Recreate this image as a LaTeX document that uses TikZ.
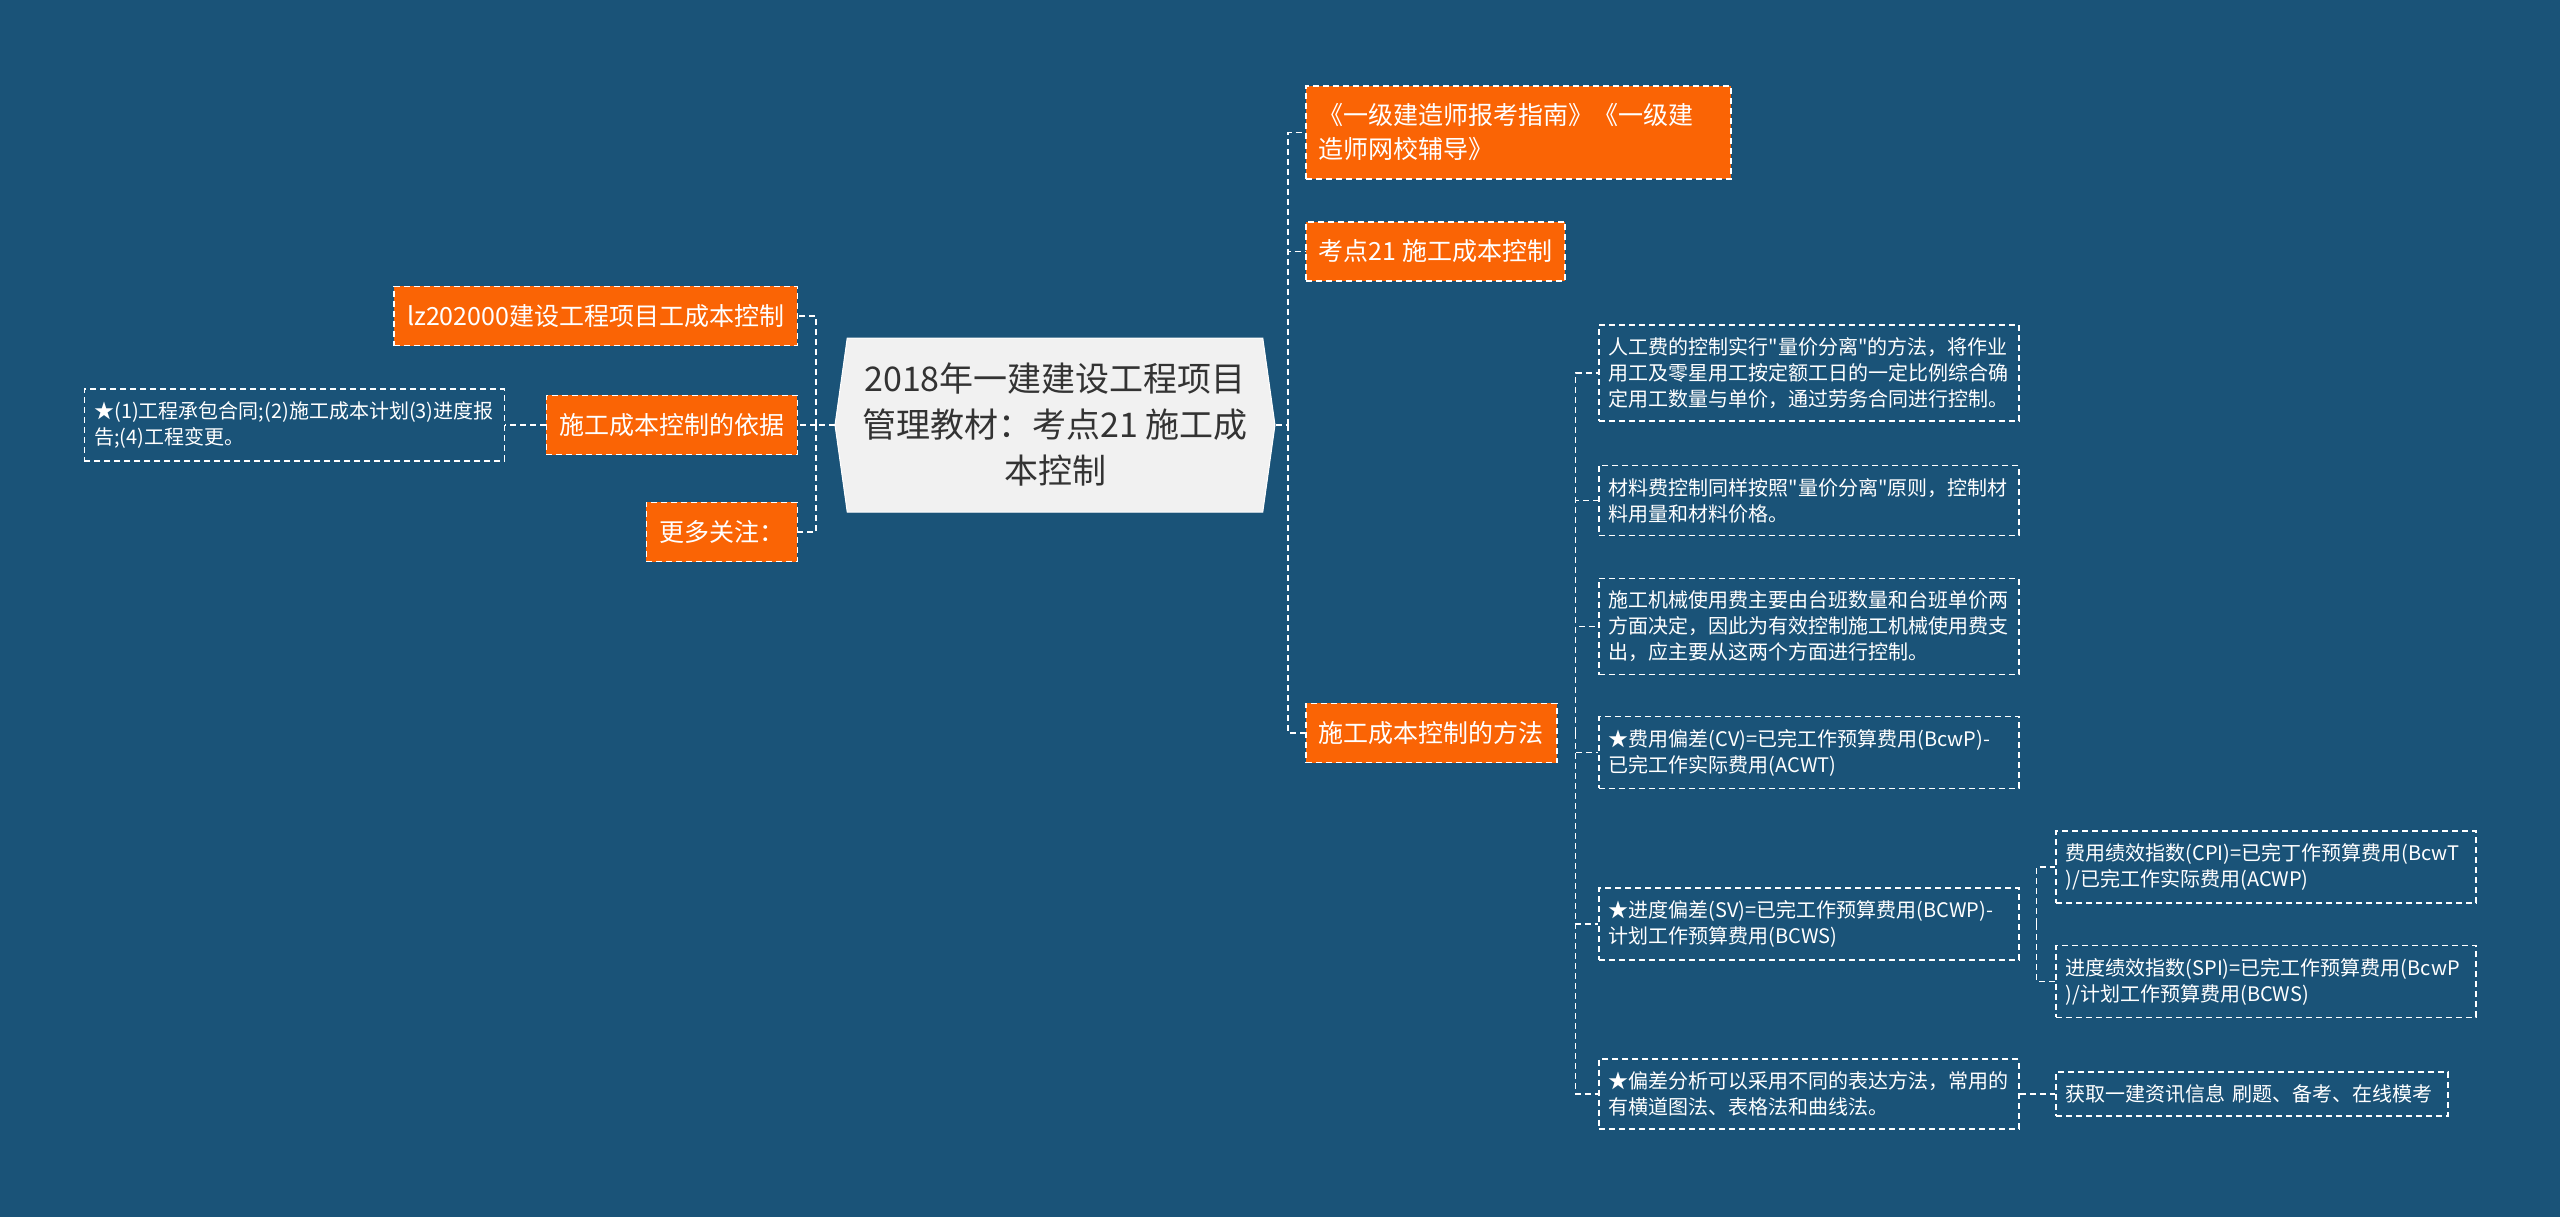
\documentclass[tikz,border=0pt]{standalone}
\usepackage{fontspec}
\setmainfont{Noto Sans CJK SC}[Ligatures=TeXOff]
\usetikzlibrary{positioning, shapes.symbols}

\definecolor{bgblue}{RGB}{26,83,120}
\definecolor{topicorange}{RGB}{250,100,5}
\definecolor{rootgray}{RGB}{241,241,241}
\definecolor{roottext}{RGB}{51,51,51}

\begin{document}
\begin{tikzpicture}[
    x=1pt, y=-1pt,
    dashwhite/.style={draw=white, line width=1.5pt, dash pattern=on 6pt off 4pt},
    conn/.style={dashwhite},
    root/.style={signal, signal to=east and west, signal pointer angle=164,
        fill=rootgray, draw=white, line width=1pt, text=roottext,
        minimum width=440pt, minimum height=174pt, inner sep=0pt,
        align=center, font=\fontsize{34}{46}\selectfont},
    topic/.style={dashwhite, fill=topicorange, text=white, align=left,
        inner xsep=13pt, inner ysep=18pt, font=\fontsize{25}{34}\selectfont},
    leaf/.style={dashwhite, text=white, text width=400pt, align=left,
        inner xsep=10pt, inner ysep=12.5pt, font=\fontsize{20}{26}\selectfont}
]

% Background
\fill[bgblue] (0,0) rectangle (2560,1217);
\useasboundingbox (0,0) rectangle (2560,1217);

% Nodes
\node[root] (root) at (1055,425) {2018年一建建设工程项目\\管理教材：考点21 施工成\\本控制};

\node[topic, anchor=west, text width=399pt] (guide) at (1305,132.5)
    {《一级建造师报考指南》《一级建\\造师网校辅导》};
\node[topic, anchor=west] (point) at (1305,251.5) {考点21 施工成本控制};
\node[topic, anchor=west] (method) at (1305,733) {施工成本控制的方法};

\node[topic, anchor=east] (lz) at (798,316) {lz202000建设工程项目工成本控制};
\node[topic, anchor=east] (basis) at (798,425) {施工成本控制的依据};
\node[topic, anchor=east] (more) at (798,532) {更多关注：};
\node[leaf, anchor=east] (basisleaf) at (505,425)
    {★(1)工程承包合同;(2)施工成本计划(3)进度报\\告;(4)工程变更。};

\node[leaf, anchor=west] (labor) at (1598,373)
    {人工费的控制实行"量价分离"的方法，将作业\\用工及零星用工按定额工日的一定比例综合确\\定用工数量与单价，通过劳务合同进行控制。};
\node[leaf, anchor=west] (material) at (1598,500.5)
    {材料费控制同样按照"量价分离"原则，控制材\\料用量和材料价格。};
\node[leaf, anchor=west] (machine) at (1598,626.5)
    {施工机械使用费主要由台班数量和台班单价两\\方面决定，因此为有效控制施工机械使用费支\\出，应主要从这两个方面进行控制。};
\node[leaf, anchor=west] (cv) at (1598,752.5)
    {★费用偏差(CV)=已完工作预算费用(BcwP)-\\已完工作实际费用(ACWT)};
\node[leaf, anchor=west] (sv) at (1598,924)
    {★进度偏差(SV)=已完工作预算费用(BCWP)-\\计划工作预算费用(BCWS)};
\node[leaf, anchor=west] (bias) at (1598,1094)
    {★偏差分析可以采用不同的表达方法，常用的\\有横道图法、表格法和曲线法。};

\node[leaf, anchor=west] (cpi) at (2055,867)
    {费用绩效指数(CPI)=已完丁作预算费用(BcwT\\)/已完工作实际费用(ACWP)};
\node[leaf, anchor=west] (spi) at (2055,981.5)
    {进度绩效指数(SPI)=已完工作预算费用(BcwP\\)/计划工作预算费用(BCWS)};
\node[leaf, anchor=west, text width=372pt] (getinfo) at (2055,1094)
    {获取一建资讯信息 刷题、备考、在线模考};

% Connectors left
\coordinate (lj) at (816,425);
\draw[conn] (root.west) -- (lj);
\foreach \n in {lz, basis, more}
    \draw[conn] (lj) |- (\n.east);
\draw[conn] (basis.west) -- (basisleaf.east);

% Connectors right
\coordinate (rj) at (1288,425);
\draw[conn] (root.east) -- (rj);
\foreach \n in {guide, point, method}
    \draw[conn] (rj) |- (\n.west);

\coordinate (mj) at ([xshift=18pt]method.east);
\foreach \n in {labor, material, machine, cv, sv, bias}
    \draw[conn] (mj) |- (\n.west);

\coordinate (sj) at ([xshift=17pt]sv.east);
\foreach \n in {cpi, spi}
    \draw[conn] (sj) |- (\n.west);
\draw[conn] (bias.east) -- (getinfo.west);

\end{tikzpicture}
\end{document}
